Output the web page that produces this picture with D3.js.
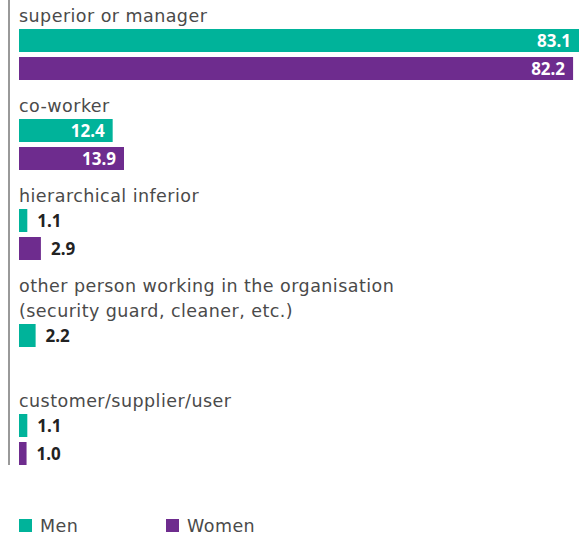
<!DOCTYPE html>
<html>
<head>
<meta charset="utf-8">
<script src="https://cdn.jsdelivr.net/npm/d3@7"></script>
<style>
  html, body { margin: 0; padding: 0; background: #fff; }
  svg { display: block; font-family: "Noto Sans", "Open Sans", sans-serif; }
  .lbl { font-family: "DejaVu Sans", "Noto Sans", sans-serif; letter-spacing: 0.45px; }
</style>
</head>
<body>
<svg id="chart" width="580" height="538"></svg>
<script>
// data
const categories = [
  ["superior or manager"],
  ["co-worker"],
  ["hierarchical inferior"],
  ["other person working in the organisation", "(security guard, cleaner, etc.)"],
  ["customer/supplier/user"]
];
const series = ["Men", "Women"];
const menValues = [83.1, 12.4, 1.1, 2.2, 1.1];
const womenValues = [82.2, 13.9, 2.9, null, 1.0];

const colors = { Men: "#00b39a", Women: "#6e2c8e" };

const svg = d3.select("#chart");
const left = 19;

// the source drawing is not linear, so a piecewise scale follows it
const x = d3.scaleLinear()
  .domain([0, 13.9, 83.1])
  .range([0, 105, 560]);

const inner = d3.scaleBand()
  .domain(series)
  .range([0, 51])
  .paddingInner(5 / 28);

const lineH = 25;
let baseline = 22;
let bottom = 0;

categories.forEach((lines, i) => {
  const g = svg.append("g");

  lines.forEach((t, j) => {
    g.append("text")
      .attr("class", "lbl")
      .attr("x", left)
      .attr("y", baseline + j * lineH)
      .attr("fill", "#4a4a4a")
      .style("font-size", "17.5px")
      .text(t);
  });

  const barsTop = baseline + (lines.length - 1) * lineH + 7;
  const vals = { Men: menValues[i], Women: womenValues[i] };

  series.forEach(s => {
    const v = vals[s];
    if (v == null) return;
    const y = barsTop + inner(s);
    const w = x(v);
    g.append("rect")
      .attr("x", left)
      .attr("y", y)
      .attr("width", w)
      .attr("height", inner.bandwidth())
      .attr("fill", colors[s]);

    const inside = v > 10;
    g.append("text")
      .attr("x", inside ? left + w - 8 : left + w + 10)
      .attr("y", y + inner.bandwidth() / 2)
      .attr("dy", "0.36em")
      .attr("text-anchor", inside ? "end" : "start")
      .attr("fill", inside ? "#fff" : "#222")
      .style("font-size", "17px")
      .style("font-weight", "700")
      .text(d3.format(".1f")(v));
  });

  bottom = barsTop + 51;
  baseline = barsTop + 83;
});

// vertical axis line
svg.append("line")
  .attr("x1", 9).attr("x2", 9)
  .attr("y1", 0).attr("y2", bottom)
  .attr("stroke", "#999")
  .attr("stroke-width", 2);

// legend
const legendX = { Men: 19, Women: 166 };
series.forEach(s => {
  const lg = svg.append("g").attr("transform", `translate(${legendX[s]}, 519)`);
  lg.append("rect")
    .attr("width", 13)
    .attr("height", 13)
    .attr("fill", colors[s]);
  lg.append("text")
    .attr("class", "lbl")
    .attr("x", 21)
    .attr("y", 13)
    .attr("fill", "#4a4a4a")
    .style("font-size", "17.5px")
    .text(s);
});
</script>
</body>
</html>
